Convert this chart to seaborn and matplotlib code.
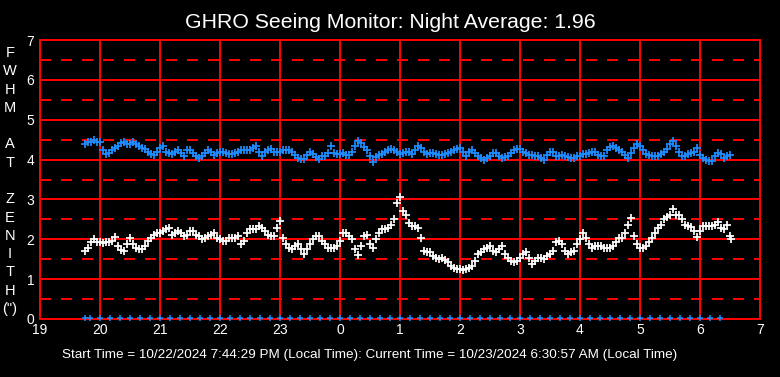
import matplotlib
matplotlib.use("Agg")
import matplotlib.pyplot as plt
import seaborn as sns
import pandas as pd

# ---------------- data ----------------
title_text = "GHRO Seeing Monitor: Night Average: 1.96"
footer_text = ("Start Time = 10/22/2024 7:44:29 PM (Local Time): "
               "Current Time = 10/23/2024 6:30:57 AM (Local Time)")
ylabel_text = "F\nW\nH\nM\n\nA\nT\n\nZ\nE\nN\nI\nT\nH\n(\")"

x_ticks = [19, 20, 21, 22, 23, 24, 25, 26, 27, 28, 29, 30, 31]
x_tick_labels = ["19", "20", "21", "22", "23", "0", "1", "2", "3", "4", "5", "6", "7"]
y_ticks = [0, 1, 2, 3, 4, 5, 6, 7]

# seeing (white): hours from midnight of the start day (24 = 0h next day)
seeing_t = [19.75, 19.8, 19.85, 19.9, 19.95, 20.0, 20.05, 20.1, 20.15, 20.2, 20.25, 20.3,
            20.35, 20.4, 20.45, 20.5, 20.55, 20.6, 20.65, 20.7, 20.75, 20.8, 20.85, 20.9,
            20.95, 21.0, 21.05, 21.1, 21.15, 21.2, 21.25, 21.3, 21.35, 21.4, 21.45, 21.5,
            21.55, 21.6, 21.65, 21.7, 21.75, 21.8, 21.85, 21.9, 21.95, 22.0, 22.05, 22.1,
            22.15, 22.2, 22.25, 22.3, 22.35, 22.4, 22.45, 22.5, 22.55, 22.6, 22.65, 22.7,
            22.75, 22.8, 22.85, 22.9, 22.95, 23.0, 23.05, 23.1, 23.15, 23.2, 23.25, 23.3,
            23.35, 23.4, 23.45, 23.5, 23.55, 23.6, 23.65, 23.7, 23.75, 23.8, 23.85, 23.9,
            23.95, 24.0, 24.05, 24.1, 24.15, 24.2, 24.25, 24.3, 24.35, 24.4, 24.45, 24.5,
            24.55, 24.6, 24.65, 24.7, 24.75, 24.8, 24.85, 24.9, 24.95, 25.0, 25.05, 25.1,
            25.15, 25.2, 25.25, 25.3, 25.35, 25.4, 25.45, 25.5, 25.55, 25.6, 25.65, 25.7,
            25.75, 25.8, 25.85, 25.9, 25.95, 26.0, 26.05, 26.1, 26.15, 26.2, 26.25, 26.3,
            26.35, 26.4, 26.45, 26.5, 26.55, 26.6, 26.65, 26.7, 26.75, 26.8, 26.85, 26.9,
            26.95, 27.0, 27.05, 27.1, 27.15, 27.2, 27.25, 27.3, 27.35, 27.4, 27.45, 27.5,
            27.55, 27.6, 27.65, 27.7, 27.75, 27.8, 27.85, 27.9, 27.95, 28.0, 28.05, 28.1,
            28.15, 28.2, 28.25, 28.3, 28.35, 28.4, 28.45, 28.5, 28.55, 28.6, 28.65, 28.7,
            28.75, 28.8, 28.85, 28.9, 28.95, 29.0, 29.05, 29.1, 29.15, 29.2, 29.25, 29.3,
            29.35, 29.4, 29.45, 29.5, 29.55, 29.6, 29.65, 29.7, 29.75, 29.8, 29.85, 29.9,
            29.95, 30.0, 30.05, 30.1, 30.15, 30.2, 30.25, 30.3, 30.35, 30.4, 30.45, 30.5,
            30.52]
seeing_v = [1.71, 1.79, 1.92, 2.0, 1.92, 1.92, 1.9, 1.92, 1.92, 1.96, 2.05, 1.83,
            1.73, 1.71, 1.88, 2.02, 1.88, 1.79, 1.75, 1.75, 1.83, 1.96, 2.04, 2.12,
            2.15, 2.17, 2.2, 2.27, 2.29, 2.12, 2.17, 2.2, 2.17, 2.08, 2.1, 2.2,
            2.2, 2.12, 2.08, 2.0, 2.04, 2.08, 2.12, 2.17, 2.04, 2.0, 1.96, 1.96,
            2.04, 2.04, 2.04, 2.08, 1.88, 1.96, 2.17, 2.25, 2.25, 2.25, 2.33, 2.29,
            2.21, 2.12, 2.08, 2.08, 2.29, 2.46, 2.04, 1.88, 1.79, 1.75, 1.83, 1.88,
            1.75, 1.63, 1.75, 1.88, 2.0, 2.08, 2.08, 1.96, 1.88, 1.79, 1.77, 1.79,
            1.83, 1.96, 2.17, 2.17, 2.08, 2.0, 1.75, 1.6, 1.83, 2.08, 2.12, 1.88,
            1.79, 2.0, 2.17, 2.25, 2.27, 2.29, 2.37, 2.5, 2.9, 3.07, 2.71, 2.62,
            2.42, 2.33, 2.33, 2.29, 2.04, 1.71, 1.67, 1.67, 1.58, 1.54, 1.5, 1.54,
            1.48, 1.42, 1.33, 1.27, 1.25, 1.25, 1.23, 1.25, 1.27, 1.33, 1.46, 1.63,
            1.67, 1.75, 1.79, 1.83, 1.71, 1.67, 1.75, 1.83, 1.63, 1.52, 1.46, 1.42,
            1.46, 1.54, 1.63, 1.67, 1.54, 1.37, 1.46, 1.54, 1.54, 1.5, 1.58, 1.63,
            1.71, 1.92, 1.96, 1.88, 1.71, 1.63, 1.67, 1.71, 1.88, 2.0, 2.17, 2.04,
            1.88, 1.79, 1.83, 1.83, 1.83, 1.79, 1.77, 1.79, 1.83, 1.92, 2.02, 2.04,
            2.17, 2.37, 2.54, 2.08, 1.88, 1.79, 1.79, 1.83, 1.92, 2.04, 2.17, 2.29,
            2.37, 2.5, 2.57, 2.6, 2.75, 2.62, 2.62, 2.5, 2.37, 2.33, 2.32, 2.21,
            2.06, 2.21, 2.33, 2.33, 2.33, 2.33, 2.37, 2.43, 2.29, 2.25, 2.35, 2.08,
            2.01]

# second series (blue)
blue_t = [19.75, 19.8, 19.85, 19.9, 19.95, 20.0, 20.05, 20.1, 20.15, 20.2, 20.25, 20.3,
          20.35, 20.4, 20.45, 20.5, 20.55, 20.6, 20.65, 20.7, 20.75, 20.8, 20.85, 20.9,
          20.95, 21.0, 21.05, 21.1, 21.15, 21.2, 21.25, 21.3, 21.35, 21.4, 21.45, 21.5,
          21.55, 21.6, 21.65, 21.7, 21.75, 21.8, 21.85, 21.9, 21.95, 22.0, 22.05, 22.1,
          22.15, 22.2, 22.25, 22.3, 22.35, 22.4, 22.45, 22.5, 22.55, 22.6, 22.65, 22.7,
          22.75, 22.8, 22.85, 22.9, 22.95, 23.0, 23.05, 23.1, 23.15, 23.2, 23.25, 23.3,
          23.35, 23.4, 23.45, 23.5, 23.55, 23.6, 23.65, 23.7, 23.75, 23.8, 23.85, 23.9,
          23.95, 24.0, 24.05, 24.1, 24.15, 24.2, 24.25, 24.3, 24.35, 24.4, 24.45, 24.5,
          24.55, 24.6, 24.65, 24.7, 24.75, 24.8, 24.85, 24.9, 24.95, 25.0, 25.05, 25.1,
          25.15, 25.2, 25.25, 25.3, 25.35, 25.4, 25.45, 25.5, 25.55, 25.6, 25.65, 25.7,
          25.75, 25.8, 25.85, 25.9, 25.95, 26.0, 26.05, 26.1, 26.15, 26.2, 26.25, 26.3,
          26.35, 26.4, 26.45, 26.5, 26.55, 26.6, 26.65, 26.7, 26.75, 26.8, 26.85, 26.9,
          26.95, 27.0, 27.05, 27.1, 27.15, 27.2, 27.25, 27.3, 27.35, 27.4, 27.45, 27.5,
          27.55, 27.6, 27.65, 27.7, 27.75, 27.8, 27.85, 27.9, 27.95, 28.0, 28.05, 28.1,
          28.15, 28.2, 28.25, 28.3, 28.35, 28.4, 28.45, 28.5, 28.55, 28.6, 28.65, 28.7,
          28.75, 28.8, 28.85, 28.9, 28.95, 29.0, 29.05, 29.1, 29.15, 29.2, 29.25, 29.3,
          29.35, 29.4, 29.45, 29.5, 29.55, 29.6, 29.65, 29.7, 29.75, 29.8, 29.85, 29.9,
          29.95, 30.0, 30.05, 30.1, 30.15, 30.2, 30.25, 30.3, 30.35, 30.4, 30.45, 30.5]
blue_v = [4.4, 4.43, 4.45, 4.48, 4.45, 4.43, 4.25, 4.15, 4.17, 4.25, 4.29, 4.35,
          4.42, 4.43, 4.38, 4.38, 4.43, 4.38, 4.33, 4.29, 4.27, 4.18, 4.15, 4.12,
          4.2, 4.29, 4.33, 4.2, 4.17, 4.15, 4.2, 4.23, 4.17, 4.1, 4.23, 4.25,
          4.17, 4.1, 4.04, 4.08, 4.17, 4.23, 4.2, 4.12, 4.17, 4.2, 4.18, 4.17,
          4.15, 4.15, 4.17, 4.2, 4.25, 4.23, 4.23, 4.25, 4.29, 4.33, 4.2, 4.08,
          4.18, 4.23, 4.27, 4.2, 4.18, 4.2, 4.23, 4.25, 4.23, 4.2, 4.12, 4.04,
          4.02, 4.02, 4.12, 4.18, 4.15, 4.07, 4.02, 4.08, 4.1, 4.17, 4.33, 4.17,
          4.15, 4.15, 4.17, 4.12, 4.12, 4.2, 4.33, 4.46, 4.42, 4.32, 4.23, 4.08,
          3.93, 4.07, 4.12, 4.15, 4.2, 4.23, 4.27, 4.25, 4.18, 4.15, 4.17, 4.18,
          4.2, 4.15, 4.23, 4.33, 4.29, 4.2, 4.15, 4.17, 4.17, 4.15, 4.12, 4.12,
          4.15, 4.17, 4.2, 4.23, 4.27, 4.29, 4.2, 4.08, 4.18, 4.23, 4.17, 4.08,
          4.04, 4.0, 4.04, 4.1, 4.17, 4.17, 4.1, 4.04, 4.07, 4.08, 4.17, 4.23,
          4.27, 4.27, 4.2, 4.17, 4.12, 4.12, 4.1, 4.08, 4.04, 3.98, 4.12, 4.18,
          4.2, 4.1, 4.1, 4.12, 4.08, 4.07, 4.04, 4.04, 4.08, 4.1, 4.15, 4.15,
          4.17, 4.2, 4.18, 4.12, 4.1, 4.1, 4.25, 4.32, 4.33, 4.29, 4.25, 4.2,
          4.12, 4.04, 4.17, 4.29, 4.38, 4.33, 4.25, 4.15, 4.12, 4.1, 4.08, 4.1,
          4.15, 4.2, 4.27, 4.38, 4.46, 4.33, 4.2, 4.08, 4.1, 4.15, 4.17, 4.2,
          4.29, 4.12, 4.04, 4.0, 3.96, 3.96, 4.08, 4.17, 4.15, 4.04, 4.1, 4.12]

# bottom row of blue markers (every ~10 minutes)
base_t = [19.75, 19.833, 20.0, 20.167, 20.333, 20.5, 20.667, 20.833, 21.0, 21.167,
          21.333, 21.5, 21.667, 21.833, 22.0, 22.167, 22.333, 22.5, 22.667, 22.833,
          23.0, 23.167, 23.333, 23.5, 23.667, 23.833, 24.0, 24.167, 24.333, 24.5,
          24.667, 24.833, 25.0, 25.167, 25.333, 25.5, 25.667, 25.833, 26.0, 26.167,
          26.333, 26.5, 26.667, 26.833, 27.0, 27.167, 27.333, 27.5, 27.667, 27.833,
          28.0, 28.167, 28.333, 28.5, 28.667, 28.833, 29.0, 29.167, 29.333, 29.5,
          29.667, 29.833, 30.0, 30.167, 30.333]
base_v = [0.03] * len(base_t)

# ---------------- style ----------------
RED = "#ff0000"
BLUE = "#1e8cff"
sns.set_theme(style="dark")
plt.rcParams["font.family"] = ["Liberation Sans", "DejaVu Sans"]
plt.rcParams["lines.scale_dashes"] = False

fig = plt.figure(figsize=(7.8, 3.77), dpi=100, facecolor="black")
ax = fig.add_axes([40 / 780, 58 / 377, 720 / 780, 279 / 377])
ax.set_facecolor("black")

GLW = 1.44  # 2 px
for yv in y_ticks:
    ax.axhline(yv, color=RED, lw=GLW, zorder=1, antialiased=False)
for yv in [0.5, 1.5, 2.5, 3.5, 4.5, 5.5, 6.5]:
    ax.axhline(yv, color=RED, lw=GLW, zorder=1, antialiased=False,
               linestyle=(0, (7.2, 7.2)))
for xv in x_ticks:
    ax.axvline(xv, color=RED, lw=GLW, zorder=1, antialiased=False)

df_s = pd.DataFrame({"t": seeing_t, "v": seeing_v})
df_b = pd.DataFrame({"t": blue_t, "v": blue_v})
df_0 = pd.DataFrame({"t": base_t, "v": base_v})

sns.scatterplot(data=df_b, x="t", y="v", marker="+", s=30, color=BLUE,
                linewidth=1.25, ax=ax, zorder=3)
sns.scatterplot(data=df_s, x="t", y="v", marker="+", s=30, color="white",
                linewidth=1.25, ax=ax, zorder=3)
sns.scatterplot(data=df_0, x="t", y="v", marker="+", s=20, color=BLUE,
                linewidth=1.1, ax=ax, zorder=3, clip_on=False)

ax.set_xlim(19, 31)
ax.set_ylim(0, 7)
ax.set_xticks(x_ticks)
ax.set_xticklabels(x_tick_labels)
ax.set_yticks(y_ticks)
ax.set_xlabel("")
ax.set_ylabel("")
ax.tick_params(colors="white", labelsize=10, length=0, pad=4)
ax.tick_params(axis="x", pad=3)
ax.grid(False)
for sp in ax.spines.values():
    sp.set_color(RED)
    sp.set_linewidth(GLW)
    sp.set_antialiased(False)
    sp.set_visible(True)

fig.text(0.5, 1 - 22 / 377, title_text, color="white", fontsize=15.3,
         ha="center", va="center")
fig.text(10 / 780, 1 - 181 / 377, ylabel_text, color="white", fontsize=10.5,
         ha="center", va="center", linespacing=1.39)
fig.text(370 / 780, 1 - 355 / 377, footer_text, color="white", fontsize=9.7,
         ha="center", va="center")

fig.savefig("out.png", dpi=100, facecolor="black")
